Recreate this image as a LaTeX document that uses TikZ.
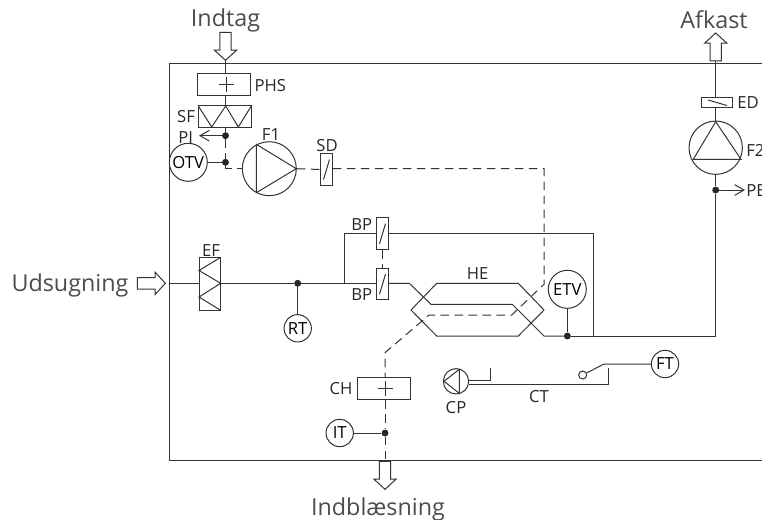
\documentclass[tikz,border=0pt]{standalone}
\usepackage{fontspec}
\setmainfont{Open Sans}
\usetikzlibrary{arrows.meta,shapes.arrows}

\tikzset{
  line/.style={line width=0.75pt, draw=black!80},
  air/.style={line, dash pattern=on 6.5pt off 4pt},
  unit/.style={line, inner sep=0, minimum height=16.5pt, minimum width=39.75pt},
  damper/.style={line, inner sep=0, minimum width=8.7pt, minimum height=23.6pt},
  sensor/.style={line, circle, inner sep=0, minimum size=20.5pt, font=\fontsize{12.5}{13}\selectfont},
  bigsensor/.style={line, circle, inner sep=0, minimum size=28.5pt, font=\fontsize{12.5}{13}\selectfont},
  dot/.style={circle, fill=black!85, inner sep=0, minimum size=5.2pt},
  lbl/.style={inner sep=0, yshift=-0.75pt, text=black!85, font=\fontsize{12.5}{13}\selectfont},
  big/.style={inner sep=0, text=black!70, font=\fontsize{17.5}{19}\selectfont},
  flow/.style={line, single arrow, inner xsep=0, inner ysep=3.9pt, minimum height=21pt, minimum width=16.5pt,
    single arrow head extend=4pt, single arrow tip angle=95},
  barb/.style={-{Straight Barb[length=7pt,width=8pt]}}
}

\begin{document}
\begin{tikzpicture}[x=0.75pt, y=-0.75pt]
      \useasboundingbox (0,0) rectangle (762,519);
      \clip (0,0) rectangle (762,519);

      % cabinet
      \coordinate (wallNE) at (762,63);
      \coordinate (wallNW) at (169,63);
      \coordinate (wallSW) at (169,460.7);
      \coordinate (wallSE) at (762,460.7);
      \draw[line] (wallNE) -- (wallNW) -- (wallSW) -- (wallSE);

      % outside air
      \node[big] (indtag) at (225.5,20) {Indtag};
      \node[flow, rotate=-90, anchor=tip] (arrIn) at (225.5,61) {};
      \node[unit, draw] (phs) at (224.2,84.7) {};
      \node[lbl, anchor=west] (phsL) at (254.3,85) {PHS};
      \node[unit, draw] (sf) at (224.8,116.5) {};
      \node[lbl] (sfL) at (186,116) {SF};
      \node[dot] (dotPI) at (225.5,135.7) {};
      \node[dot] (dotOTV) at (225.5,162.3) {};
      \node[lbl] (piL) at (185.7,137) {PI};
      \coordinate (piTip) at (199,135.7);
      \node[bigsensor, draw] (otv) at (188.3,162.3) {OTV};
      \node[line, draw, circle, inner sep=0, minimum size=40.5pt] (f1) at (269.3,168.7) {};
      \node[lbl] (f1L) at (271,134) {F1};
      \node[damper, draw] (sd) at (326.5,169.5) {};
      \node[lbl] (sdL) at (327,145) {SD};

      \draw[line] (arrIn.tip) -- (arrIn.tip |- phs.north);
      \draw[line] (arrIn.tip |- phs.south) -- (arrIn.tip |- sf.north);
      \draw[line] (arrIn.tip |- sf.south) -- (dotPI);
      \draw[line, barb] (dotPI) -- (piTip);
      \draw[line] (otv) -- (dotOTV);
      \draw[air] (dotPI) -- (dotOTV);
      \draw[air] (dotOTV) |- (f1.west);
      \draw[line] (198.3,106) -- (211.7,127) -- (225.7,106) -- (238.3,127) -- (251.3,106);
      \draw[line] (226,77) -- (226,92) (218.5,84.5) -- (233.5,84.5);
      \draw[line] (256.3,144.3) -- (256.3,192.7) -- (296.3,168.7) -- cycle;

      % supply air path
      \coordinate (airA) at (544,168.7);
      \coordinate (airB) at (544,284.3);
      \coordinate (airC) at (511.7,315);
      \coordinate (airD) at (429,315);
      \coordinate (airE) at (385,352.7);
      \node[unit, draw] (ch) at (384.2,388.8) {};
      \node[lbl] (chL) at (341,388) {CH};
      \node[dot] (dotIT) at (385,433) {};
      \node[sensor, draw] (it) at (339.7,433) {IT};
      \coordinate (wallS) at (385,460.7);
      \node[flow, rotate=-90, anchor=tip] (arrSup) at (385,490) {};
      \node[big] (indbl) at (378,509.5) {Indblæsning};
      \draw[air] (f1.east) -- (sd.west);
      \draw[air] (sd.east |- airA) -- (airA) -- (airB) -- (airC) -- (airD) -- (airE) -- (wallS |- ch.north);
      \draw[air] (wallS |- ch.south) -- (dotIT) -- (wallS);
      \draw[line] (it) -- (dotIT);
      \draw[line] (385,381) -- (385,396) (377.5,388.5) -- (392.5,388.5);

      % extract air
      \node[big] (udsug) at (70,285) {Udsugning};
      \node[flow, anchor=tip] (arrUd) at (166,283.3) {};
      \coordinate (wallW) at (169,283.3);
      \node[line, draw, inner sep=0, minimum width=16.2pt, minimum height=39.75pt] (ef) at (209.8,283.8) {};
      \node[lbl] (efL) at (211,249.3) {EF};
      \node[dot] (dotRT) at (297.7,283.3) {};
      \node[sensor, draw] (rt) at (297.7,328.3) {RT};
      \node[damper, draw] (bpA) at (382.5,233.7) {};
      \node[damper, draw] (bpB) at (382.5,284.2) {};
      \node[lbl] (bpAL) at (361.7,223.3) {BP};
      \node[lbl] (bpBL) at (361.7,294) {BP};
      \coordinate (bypNW) at (344,233.7);
      \coordinate (bypSW) at (344,283.3);
      \coordinate (bypNE) at (593.7,233.7);
      \coordinate (bypSE) at (593.7,336);
      \draw[line] (220.7,257.3) -- (199,270.5) -- (220.7,283.3) -- (199,297) -- (220.7,310.3);
      \draw[line] (wallW) -- (ef.west |- wallW);
      \draw[line] (ef.east |- wallW) -- (dotRT) -- (bypSW) -- (bpB.west |- bypSW);
      \draw[line] (rt) -- (dotRT);
      \draw[line] (bypSW) -- (bypNW) -- (bpA.west);
      \draw[line] (bpA.east) -- (bypNE) -- (bypSE);
      \draw[air] (bpA) -- (bpB);
      \foreach \n in {sd,bpA,bpB}
        \draw[line] (\n.center)+(-3,10) -- +(3,-10);

      % heat exchanger
      \node[lbl] (heL) at (477.7,272.7) {HE};
      \draw[line] (436.7,283.3) -- (518.3,283.3) -- (544,310) -- (518.3,336) -- (436.7,336) -- (411,310) -- cycle;
      \node[bigsensor, draw] (etv) at (567.3,289.3) {ETV};
      \node[dot] (dotETV) at (567.3,336) {};
      \draw[line] (etv) -- (dotETV);
      \draw[line] (bpB.east |- bypSW) -- (409.3,283.3) -- (431,304.3) -- (512.3,304.3) -- (544,336) -- (dotETV);

      % exhaust
      \node[big] (afkast) at (714,20) {Afkast};
      \node[flow, rotate=90, anchor=tip] (arrOut) at (715.7,32.3) {};
      \node[line, draw, inner sep=0, minimum width=23.5pt, minimum height=7.5pt] (ed) at (717.3,102.7) {};
      \node[lbl, anchor=west] (edL) at (737,102) {ED};
      \node[line, draw, circle, inner sep=0, minimum size=40pt] (f2) at (715.7,147.7) {};
      \node[lbl, anchor=west] (f2L) at (746,149) {F2};
      \node[dot] (dotPE) at (715.7,190) {};
      \node[lbl, anchor=west] (peL) at (746,190) {PE};
      \coordinate (peTip) at (745,190);
      \coordinate (retCorner) at (715.7,336);
      \draw[line] (arrOut.tail) -- (arrOut.tail |- ed.north);
      \draw[line] (arrOut.tail |- ed.south) -- (f2.north);
      \draw[line] (708,100) -- (727,105.5);
      \draw[line] (715.7,121.7) -- (693.3,159.3) -- (741,159.3) -- cycle;
      \draw[line] (f2.south) -- (dotPE) -- (retCorner) -- (dotETV);
      \draw[line, barb] (dotPE) -- (peTip);

      % cooling circuit
      \node[line, draw, circle, inner sep=0, minimum size=19pt] (cp) at (456,381.3) {};
      \node[lbl] (cpL) at (456,407) {CP};
      \node[lbl] (ctL) at (539,396) {CT};
      \node[line, draw, circle, inner sep=0, minimum size=6pt] (sw) at (582.7,375) {};
      \node[sensor, draw] (ft) at (665,364) {FT};
      \coordinate (swArm) at (604,364);
      \coordinate (ctEnd) at (608.3,368.3);
      \draw[line] (444,381.3) -- (459.3,369.3) -- (459.3,393.3) -- cycle;
      \draw[line] (468.7,380) -- (490,380) -- (490,368.3);
      \draw[line] (468.7,384) -- (608.3,384) -- (ctEnd);
      \draw[line] (sw) -- (swArm) -- (ft);
\end{tikzpicture}
\end{document}
